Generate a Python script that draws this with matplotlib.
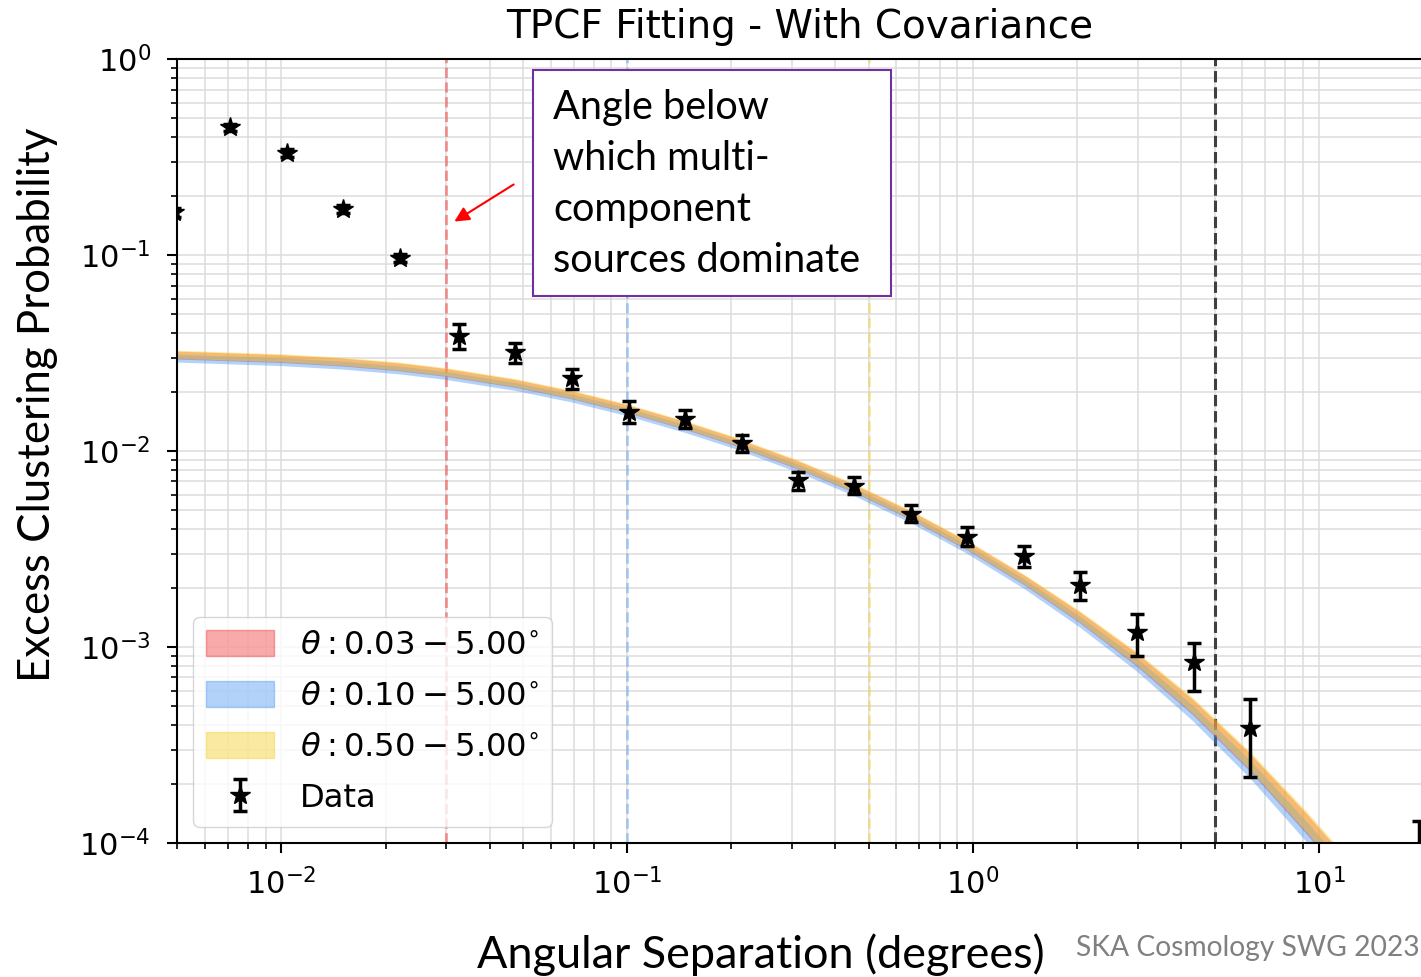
import numpy as np
import matplotlib
matplotlib.use('Agg')
import matplotlib.pyplot as plt
from matplotlib.patches import Patch, Rectangle

# data points (angle in degrees, w(theta), error bar ends)
theta = [0.00488, 0.00711, 0.0104, 0.0151, 0.0220, 0.0327, 0.0475, 0.0692, 0.101, 0.147,
         0.214, 0.312, 0.454, 0.661, 0.963, 1.40, 2.04, 2.98, 4.34, 6.31, 19.5]
wtheta = [0.166, 0.450, 0.334, 0.172, 0.0971, 0.0387, 0.0319, 0.0235, 0.0159, 0.0146,
          0.0110, 0.00712, 0.00664, 0.00477, 0.00366, 0.00291, 0.00207, 0.00120, 0.000841, 0.000385, 0.000065]
w_hi = [0.175, 0.47, 0.35, 0.18, 0.102, 0.0444, 0.0355, 0.0262, 0.0180, 0.0162,
        0.0121, 0.00785, 0.00735, 0.00531, 0.00408, 0.00328, 0.00242, 0.00147, 0.00105, 0.000543, 0.000130]
w_lo = [0.157, 0.43, 0.318, 0.164, 0.092, 0.0332, 0.0281, 0.0207, 0.0139, 0.0131,
        0.00993, 0.00633, 0.00604, 0.00433, 0.00328, 0.00255, 0.00174, 0.000900, 0.000596, 0.000216, 0.00003]

# fitted model curve and half width of the band in dex
fit_theta = [0.005, 0.01, 0.015, 0.022, 0.03, 0.0473, 0.0691, 0.1, 0.147, 0.2, 0.312,
             0.455, 0.66, 0.963, 1.41, 2.04, 2.98, 4.31, 6.30, 9.19, 12.9]
fit_mid = [0.03059, 0.02935, 0.02818, 0.02661, 0.02492, 0.02194, 0.01914, 0.01628, 0.01337, 0.01122,
           0.008401, 0.006356, 0.004651, 0.003248, 0.002160, 0.001391, 0.000844, 0.000485, 0.000253,
           0.0001223, 0.0000610]
fit_half_dex = [0.031, 0.031, 0.031, 0.031, 0.031, 0.031, 0.031, 0.031, 0.031, 0.031, 0.032,
                0.032, 0.033, 0.035, 0.038, 0.043, 0.051, 0.061, 0.070, 0.080, 0.088]

fit_labels = [r'$\theta: 0.03 - 5.00^{\circ}$', r'$\theta: 0.10 - 5.00^{\circ}$', r'$\theta: 0.50 - 5.00^{\circ}$']
fit_min_angle = [0.03, 0.1, 0.5]
fit_max_angle = 5.0

band_colors = ['#f04040', '#4090f0', '#f5d030']
band_shift = [0.15, -0.35, 0.30]   # fraction of half width
band_alpha = [0.45, 0.40, 0.45]

W, H = 1421, 977
fig = plt.figure(figsize=(W / 100, H / 100), dpi=100)
ax = fig.add_axes([177.3 / W, 1 - 843 / H, (1423 - 177.3) / W, (843 - 59.3) / H])

ax.set_xscale('log')
ax.set_yscale('log')
ax.set_xlim(0.005, 20)
ax.set_ylim(1e-4, 1)

ax.grid(True, which='both', color='#dcdcdc', linewidth=1.1, zorder=0)
ax.set_axisbelow(True)

# fit bands
fx = np.array(fit_theta)
fm = np.log10(fit_mid)
fh = np.array(fit_half_dex)
handles = []
for c, s, a, lab in zip(band_colors, band_shift, band_alpha, fit_labels):
    lo = 10 ** (fm + s * fh - 0.65 * fh)
    hi = 10 ** (fm + s * fh + 0.65 * fh)
    ax.fill_between(fx, lo, hi, color=c, alpha=a, linewidth=0, zorder=2)
    handles.append(Patch(facecolor=c, alpha=a, edgecolor=c, label=lab))

# angle limits
vl_alpha = [0.55, 0.4, 0.45]
for ang, c, a in zip(fit_min_angle, band_colors, vl_alpha):
    ax.axvline(ang, color=c, ls='--', lw=2, alpha=a, zorder=1)
ax.axvline(fit_max_angle, color='#404040', ls='--', lw=2.2, zorder=1)

wt = np.array(wtheta)
yerr = [wt - np.array(w_lo), np.array(w_hi) - wt]
eb = ax.errorbar(theta, wt, yerr=yerr, fmt='*', color='black', markersize=15,
                 elinewidth=2.5, capsize=5, capthick=2.5, label='Data', zorder=4)
handles.append(eb)

ax.tick_params(which='major', labelsize=22, length=7, width=1.5)
ax.tick_params(which='minor', length=4, width=1.2)
ax.tick_params(axis='y', which='major', pad=12)
ax.tick_params(axis='x', which='major', pad=11)
for sp in ax.spines.values():
    sp.set_linewidth(1.5)

ax.set_title('TPCF Fitting - With Covariance', fontsize=28, pad=15)
ax.legend(handles=handles, loc='lower left', fontsize=23.2, handlelength=2.1, handleheight=0.85,
          labelspacing=0.62)

# powerpoint style annotations
txt_font = 'Lato'
fig.text(38 / W, 1 - 405 / H, 'Excess Clustering Probability', rotation=90, ha='center', va='center',
         fontsize=31.5, family=txt_font)
fig.text(761 / W, 1 - 955 / H, 'Angular Separation (degrees)', ha='center', va='center',
         fontsize=32.4, family=txt_font)
fig.text(1420 / W, 1 - 948 / H, 'SKA Cosmology SWG 2023', ha='right', va='center',
         fontsize=20.3, family=txt_font, color='#808080')

fig.patches.append(Rectangle((533 / W, 1 - 296 / H), (891 - 533) / W, (296 - 70) / H,
                             transform=fig.transFigure, facecolor='white', edgecolor='#7030a0',
                             linewidth=1.5, zorder=5))
fig.text(553 / W, 1 - 89 / H, 'Angle below\nwhich multi-\ncomponent\nsources dominate',
         ha='left', va='top', fontsize=28.6, family=txt_font, linespacing=1.47, zorder=6)
ax.annotate('', xy=(452 / W, 1 - 223 / H), xytext=(516 / W, 1 - 183 / H),
            xycoords='figure fraction', textcoords='figure fraction',
            arrowprops=dict(arrowstyle='-|>', color='red', lw=1.5, mutation_scale=22))

fig.savefig('out.png', dpi=100)
